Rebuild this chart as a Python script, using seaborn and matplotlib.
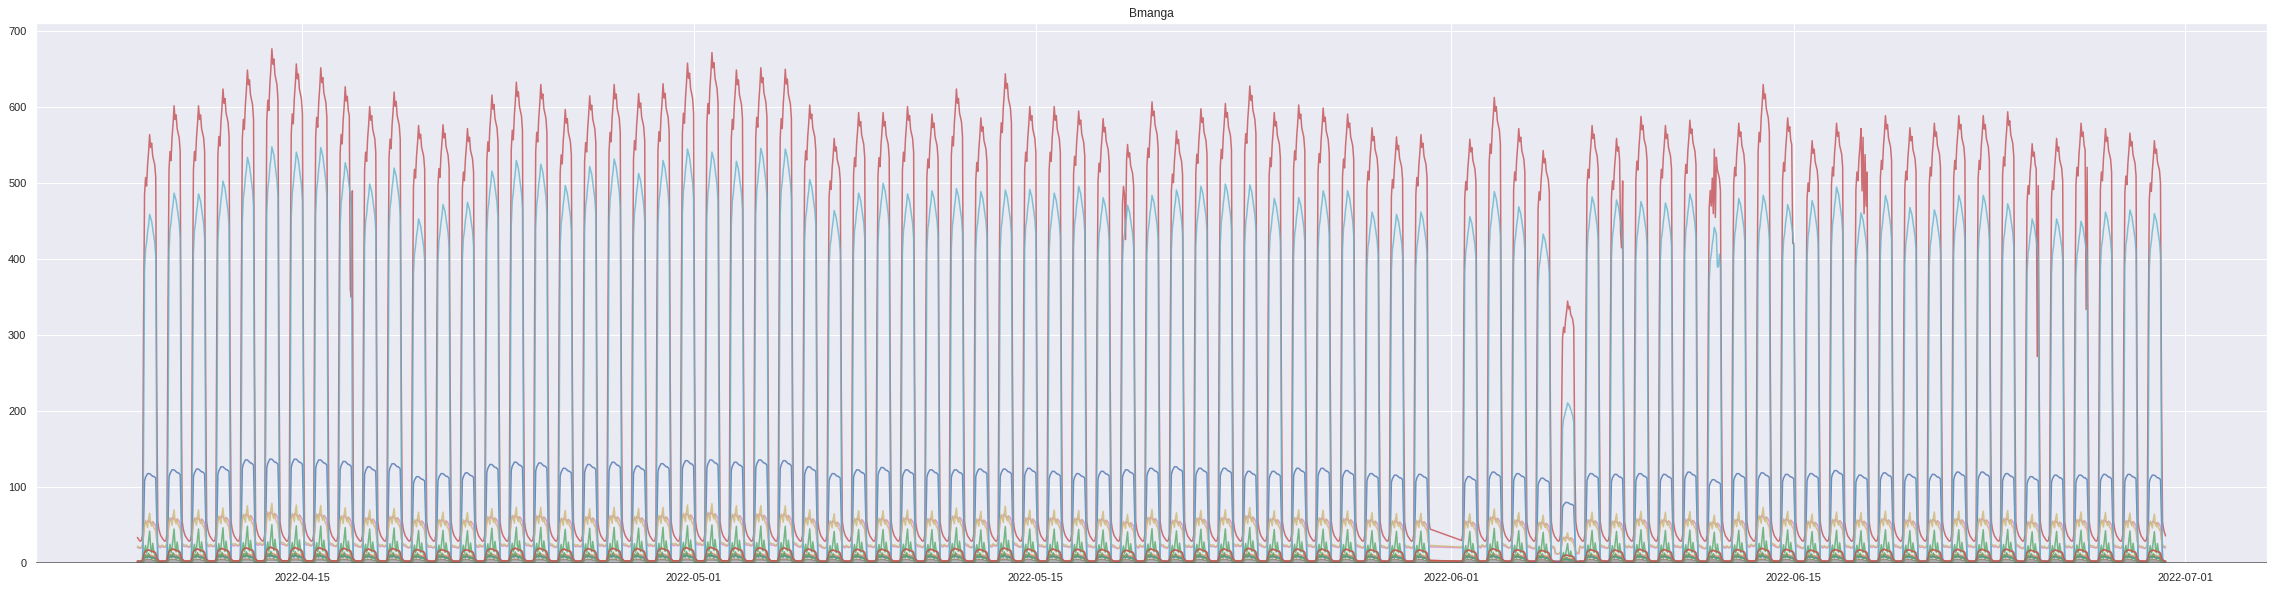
import numpy as np
import pandas as pd
import matplotlib
matplotlib.use("Agg")
import matplotlib.pyplot as plt
import seaborn as sns

sns.set_theme(style="darkgrid")
plt.rcParams["font.family"] = ["Liberation Sans", "DejaVu Sans"]

# ---- data: hourly readings, one "day" starts at 06:00 ----
START = "2022-04-08 06:00"
N_DAYS = 83
GAP = ("2022-05-31 04:00", "2022-06-01 09:00")   # missing readings

# daily peaks (04-08 .. 06-29, 05-31 missing)
red_peak = [564, 602, 602, 624, 649, 677, 657, 652, 627, 601, 620, 576, 577, 572, 616, 633,
            630, 597, 615, 630, 618, 631, 658,
            672, 649, 652, 650, 603, 559, 593, 593, 601, 591, 624, 586, 644, 601, 601, 595,
            585, 551, 607, 569, 598, 605, 628, 593, 603, 599, 591, 573, 561, 564, 0,
            558, 613, 572, 543, 345, 576, 559, 588, 576, 583, 545, 579, 630, 586, 556, 579,
            572, 589, 573, 579, 589, 589, 594, 552, 559, 579, 572, 566, 556]
cyan_peak = [459, 487, 486, 503, 534, 548, 541, 547, 527, 499, 520, 453, 472, 475, 516, 530,
             525, 497, 522, 532, 513, 530, 545,
             541, 529, 546, 545, 505, 464, 487, 500, 486, 490, 493, 489, 491, 492, 487, 496,
             481, 471, 484, 491, 496, 499, 498, 480, 481, 490, 490, 462, 459, 462, 0,
             456, 489, 469, 433, 211, 482, 478, 476, 474, 486, 442, 480, 484, 472, 477, 495,
             461, 484, 468, 465, 484, 484, 473, 453, 453, 450, 462, 465, 460]
blue_peak = [118, 123, 124, 127, 136, 137, 137, 136, 134, 127, 131, 114, 118, 119, 130, 133,
             132, 125, 130, 133, 128, 131, 135,
             136, 133, 136, 135, 127, 118, 123, 126, 123, 123, 123, 124, 124, 125, 121, 118,
             121, 123, 125, 127, 125, 125, 121, 121, 125, 125, 122, 118, 116, 117, 0,
             114, 120, 118, 112, 80, 118, 117, 118, 117, 120, 110, 118, 119, 117, 118, 122,
             116, 119, 117, 117, 120, 120, 118, 114, 116, 116, 117, 117, 116]

# hour-of-day shapes (hour 0 = 06:00)
red_shape = [0, 0, 0, 0, 0, 0, 0.55, 0.86, 0.9, 0.88, 0.93, 0.96, 1.0, 0.97, 0.98, 0.95,
             0.94, 0.93, 0.9, 0.4, 0, 0, 0, 0]
red_night = [34, 32, 30, 29, 30, 38, 40, 40, 40, 40, 40, 40, 40, 40, 40, 40,
             40, 40, 40, 60, 55, 45, 40, 36]
cyan_shape = [0, 0, 0, 0, 0, 0, 0.3, 0.84, 0.9, 0.92, 0.95, 0.97, 1.0, 0.99, 0.98, 0.96,
              0.94, 0.92, 0.88, 0.25, 0, 0, 0, 0]
blue_shape = [0.02, 0.02, 0.02, 0.02, 0.02, 0.03, 0.4, 0.92, 0.96, 0.98, 1.0, 1.0, 1.0, 0.99,
              0.98, 0.97, 0.97, 0.96, 0.95, 0.5, 0.05, 0.03, 0.02, 0.02]

# smaller feeders, typical level per hour
orange_lvl = [3, 3, 2, 2, 3, 5, 10, 15, 17, 18, 18, 19, 18, 17, 17, 16, 16, 15, 14, 8, 5, 4, 3, 3]
green_lvl = [2, 2, 1, 1, 2, 4, 10, 18, 25, 14, 20, 32, 45, 22, 15, 28, 18, 12, 10, 5, 3, 2, 2, 2]
purple_lvl = [2, 2, 2, 2, 2, 3, 5, 7, 8, 8, 9, 9, 8, 8, 8, 7, 7, 7, 6, 4, 3, 2, 2, 2]
brown_lvl = [2, 2, 2, 2, 2, 2, 3, 4, 5, 5, 5, 5, 5, 5, 5, 4, 4, 4, 4, 3, 2, 2, 2, 2]
pink_lvl = [22, 22, 21, 21, 22, 25, 40, 55, 58, 57, 59, 60, 58, 57, 56, 58, 57, 55, 52, 35, 25, 23, 22, 22]
gray_lvl = [1, 1, 1, 1, 1, 1, 2, 3, 3, 3, 3, 3, 3, 3, 3, 3, 3, 3, 2, 2, 1, 1, 1, 1]
khaki_lvl = [24, 23, 22, 22, 23, 26, 38, 52, 60, 55, 50, 62, 70, 55, 52, 58, 50, 48, 45, 32, 26, 25, 24, 24]
sblue_lvl = [1, 1, 1, 1, 1, 2, 5, 8, 9, 9, 10, 10, 9, 9, 9, 8, 8, 8, 7, 3, 2, 1, 1, 1]
sorange_lvl = [2, 2, 2, 2, 2, 3, 6, 9, 10, 11, 12, 12, 12, 11, 11, 10, 10, 10, 9, 5, 3, 2, 2, 2]
sgreen_lvl = [1, 1, 1, 1, 1, 2, 4, 8, 12, 9, 7, 14, 10, 8, 6, 9, 7, 6, 5, 3, 2, 1, 1, 1]
sred_lvl = [3, 3, 3, 3, 3, 5, 10, 15, 17, 18, 18, 19, 18, 18, 17, 17, 16, 16, 14, 8, 5, 4, 3, 3]

# single readings that break the daily pattern
events = [
    ("2022-04-16 23:00", "red", 360), ("2022-04-17 00:00", "red", 350), ("2022-04-17 01:00", "red", 490),
    ("2022-05-18 16:00", "red", 426),
    ("2022-06-07 22:00", "red", 434), ("2022-06-07 23:00", "red", 415),
    ("2022-06-11 15:00", "red", 470), ("2022-06-11 17:00", "red", 460), ("2022-06-11 19:00", "red", 455),
    ("2022-06-11 21:00", "cyan", 390), ("2022-06-11 22:00", "cyan", 390),
    ("2022-06-14 23:00", "red", 421), ("2022-06-15 00:00", "red", 421),
    ("2022-06-17 19:00", "red", 490), ("2022-06-17 21:00", "red", 460), ("2022-06-17 23:00", "red", 470),
    ("2022-06-24 23:00", "red", 272),
    ("2022-06-26 23:00", "red", 334),
]

# ---- build table ----
times = pd.date_range(START, periods=N_DAYS * 24, freq="h")
day = np.repeat(np.arange(N_DAYS), 24)
hour = np.tile(np.arange(24), N_DAYS)
scale = np.array(red_peak)[day] / 600.0

df = pd.DataFrame(index=times)
df["blue"] = np.maximum(3, np.array(blue_shape)[hour] * np.array(blue_peak)[day])
df["orange"] = np.array(orange_lvl)[hour] * scale
df["green"] = np.array(green_lvl)[hour] * scale
df["red"] = np.maximum(np.array(red_night)[hour], np.array(red_shape)[hour] * np.array(red_peak)[day])
df["purple"] = np.array(purple_lvl)[hour] * scale
df["brown"] = np.array(brown_lvl)[hour] * scale
df["pink"] = np.array(pink_lvl)[hour] * scale
df["gray"] = np.array(gray_lvl)[hour] * scale
df["khaki"] = np.array(khaki_lvl)[hour] * scale
df["cyan"] = np.array(cyan_shape)[hour] * np.array(cyan_peak)[day]
df["blue2"] = np.array(sblue_lvl)[hour] * scale
df["orange2"] = np.array(sorange_lvl)[hour] * scale
df["green2"] = np.array(sgreen_lvl)[hour] * scale
df["red2"] = np.array(sred_lvl)[hour] * scale

for ts, col, val in events:
    df.loc[pd.Timestamp(ts), col] = val

df = df[(df.index < GAP[0]) | (df.index > GAP[1])]
order = list(df.columns)
long = df.reset_index(names="time").melt(id_vars="time", var_name="feeder", value_name="load")

# ---- plot ----
W, H = 2274, 591
fig = plt.figure(figsize=(W / 72, H / 72), dpi=72)
ax = fig.add_axes([36 / W, 1 - 563.3 / H, (2267 - 36) / W, (563.3 - 23) / H])

sns.lineplot(data=long, x="time", y="load", hue="feeder", hue_order=order,
             palette=sns.color_palette("deep", len(order)), estimator=None, sort=False,
             legend=False, alpha=0.8, linewidth=1.5, ax=ax)

ax.axhline(0, color="#555555", linewidth=1.5, zorder=5)
ax.set_ylim(bottom=0)
ax.set_title("Bmanga")
ax.set_xlabel("")
ax.set_ylabel("")

fig.savefig("out.png", dpi=72)
